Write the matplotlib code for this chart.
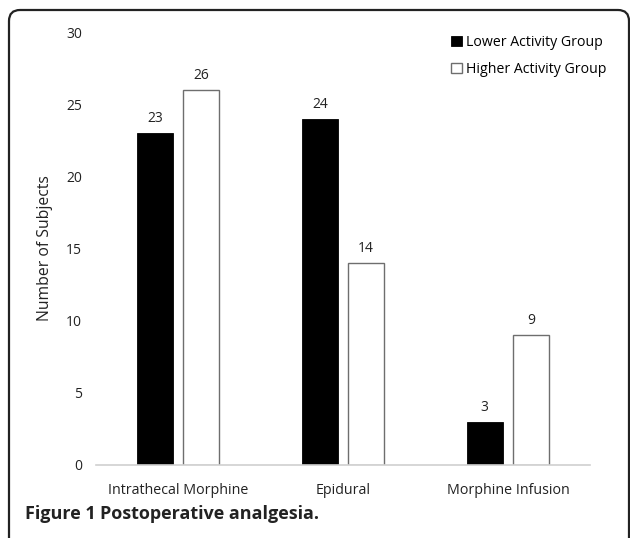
import matplotlib.pyplot as plt
from matplotlib.patches import FancyBboxPatch
import numpy as np

categories = ["Intrathecal Morphine", "Epidural", "Morphine Infusion"]
lower_activity = [23, 24, 3]
higher_activity = [26, 14, 9]
y_ticks = [0, 5, 10, 15, 20, 25, 30]

plt.rcParams['font.family'] = ['Open Sans', 'DejaVu Sans']

W, H = 630, 538
fig = plt.figure(figsize=(W / 100, H / 100), dpi=100)
ax = fig.add_axes([0.152, 0.1357, 0.785, 0.8048])

x = np.arange(len(categories))
w = 0.22
off = 0.14
b1 = ax.bar(x - off, lower_activity, w, color="black", edgecolor="black",
            linewidth=0.6, label="Lower Activity Group")
b2 = ax.bar(x + off, higher_activity, w, color="white", edgecolor="#6e6e6e",
            linewidth=1.0, label="Higher Activity Group")

for bars in (b1, b2):
    for r in bars:
        ax.annotate(f"{int(r.get_height())}", (r.get_x() + r.get_width() / 2, r.get_height()),
                    xytext=(0, 5), textcoords="offset points", ha="center", va="bottom",
                    fontsize=10, color="#222222")

ax.set_xlim(-0.5, 2.5)
ax.set_ylim(0, 30)
ax.set_yticks(y_ticks)
ax.set_xticks(x)
ax.set_xticklabels(categories, fontsize=10.3)
ax.tick_params(axis="both", length=0, labelcolor="#222222")
ax.tick_params(axis="y", pad=10, labelsize=10)
ax.tick_params(axis="x", pad=13)
for s in ("top", "right", "left"):
    ax.spines[s].set_visible(False)
ax.spines["bottom"].set_color("#d0d0d0")
ax.spines["bottom"].set_linewidth(1.2)
ax.set_ylabel("Number of Subjects", fontsize=11.3, color="#222222", labelpad=9)

fig.legend(handles=[b1, b2], loc="upper left", bbox_to_anchor=(451 / W, 1 - 35 / H),
           frameon=False, fontsize=10.2, borderpad=0, borderaxespad=0,
           handlelength=0.75, handleheight=0.75, handletextpad=0.3, labelspacing=0.85)

# rounded frame in inch coordinates
frame = FancyBboxPatch((9 / 100, -0.3), 620 / 100, (H - 10) / 100 + 0.3,
                       boxstyle="round,pad=0,rounding_size=0.11",
                       transform=fig.dpi_scale_trans, fill=False,
                       edgecolor="#222222", linewidth=1.6, clip_on=False)
fig.patches.append(frame)

fig.text(25 / W, 1 - 514 / H, "Figure 1", fontsize=13, fontweight="bold",
         color="#222222", va="center", ha="left")
fig.text(100 / W, 1 - 514 / H, "Postoperative analgesia.", fontsize=13, fontweight="bold",
         color="#222222", va="center", ha="left")

fig.savefig("out.png", dpi=100)
